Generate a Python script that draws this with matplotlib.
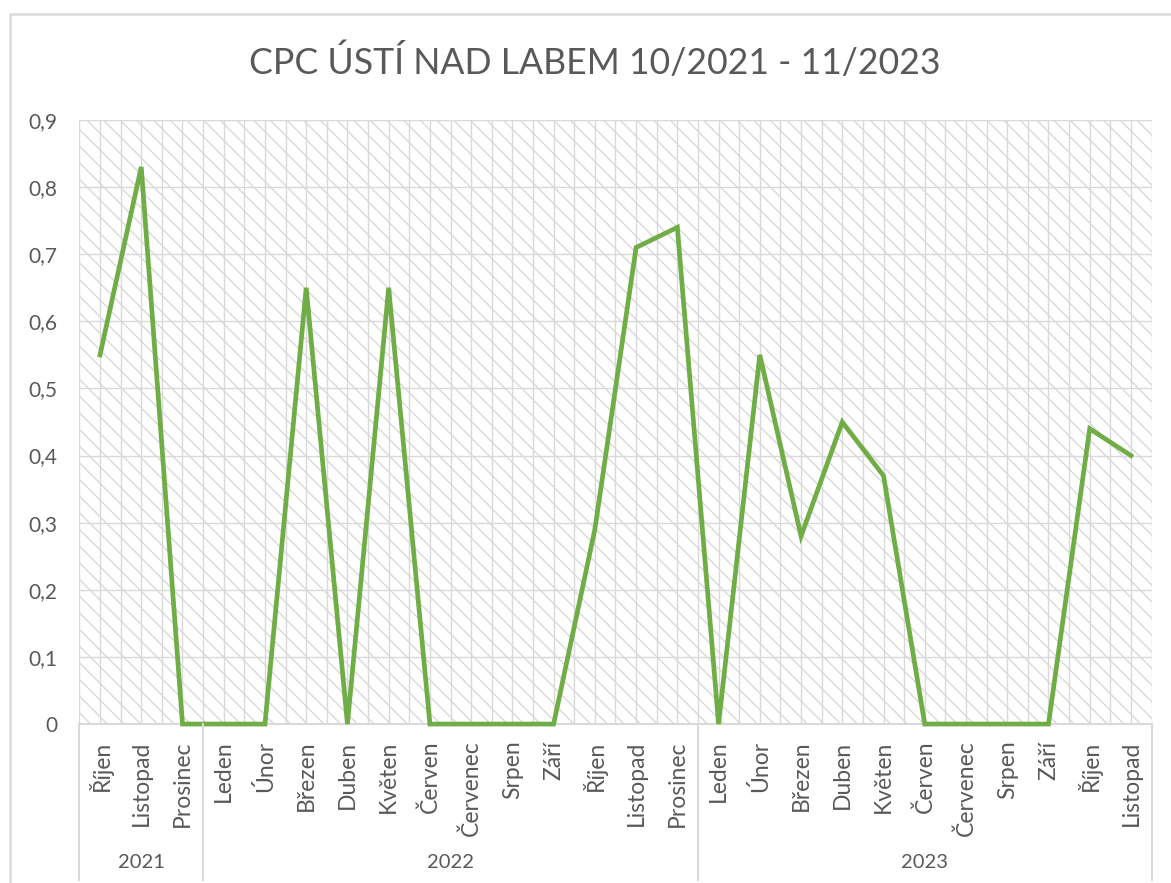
import matplotlib
matplotlib.use('Agg')
import matplotlib.pyplot as plt
from matplotlib.patches import Rectangle
from matplotlib.lines import Line2D
import matplotlib.transforms as mtransforms
import numpy as np

plt.rcParams['font.family'] = ['Lato', 'DejaVu Sans']
plt.rcParams['hatch.linewidth'] = 0.9
plt.rcParams['hatch.color'] = '#d6d6d6'

# data
months = ['Říjen', 'Listopad', 'Prosinec',
          'Leden', 'Únor', 'Březen', 'Duben', 'Květen', 'Červen', 'Červenec',
          'Srpen', 'Září', 'Říjen', 'Listopad', 'Prosinec',
          'Leden', 'Únor', 'Březen', 'Duben', 'Květen', 'Červen', 'Červenec',
          'Srpen', 'Září', 'Říjen', 'Listopad']
values = [0.55, 0.83, 0, 0, 0, 0.65, 0, 0.65, 0, 0, 0, 0, 0.29, 0.71, 0.74,
          0, 0.55, 0.28, 0.45, 0.37, 0, 0, 0, 0, 0.44, 0.40]
years = ['2021', '2022', '2023']
year_counts = [3, 12, 11]
yticks = [0, 0.1, 0.2, 0.3, 0.4, 0.5, 0.6, 0.7, 0.8, 0.9]

grey = '#d9d9d9'
txt = '#595959'
green = '#70ad47'

fig = plt.figure(figsize=(11.71, 8.83), dpi=100)
ax = fig.add_axes([0.0678, 0.18, 0.9156, 0.6841])

x = np.arange(len(months))
n = len(months)

# hatched background
ax.add_patch(Rectangle((-0.5, 0), n, 0.9, facecolor='white', edgecolor='#d6d6d6',
                       hatch='\\\\', linewidth=0, zorder=0))

# grid lines
for xi in np.arange(-0.5, n, 0.5):
    ax.axvline(xi, color=grey, linewidth=1.0, zorder=1)
for yv in yticks[1:]:
    ax.axhline(yv, color=grey, linewidth=1.0, zorder=1)

ax.plot(x, values, color=green, linewidth=3.4, zorder=3, clip_on=False,
        solid_joinstyle='miter')

ax.set_xlim(-0.5, n - 0.5)
ax.set_ylim(0, 0.9)
ax.set_yticks(yticks)
ax.set_yticklabels([('%.1f' % v).replace('.', ',') if v else '0' for v in yticks])
ax.set_xticks(x)
ax.set_xticklabels(months, rotation=90, va='top')
ax.tick_params(axis='both', length=0, colors=txt)
ax.tick_params(axis='y', pad=16, labelsize=15)
ax.tick_params(axis='x', pad=12, labelsize=16.5)
for s in ['top', 'right', 'left']:
    ax.spines[s].set_visible(False)
ax.spines['bottom'].set_color(grey)
ax.spines['bottom'].set_linewidth(1.5)
ax.spines['bottom'].set_zorder(2)

# year groups and separators
trans = mtransforms.blended_transform_factory(ax.transData, fig.transFigure)
start = -0.5
bounds = [start]
for yr, cnt in zip(years, year_counts):
    ax.text(start + cnt / 2, 1 - 862 / 883, yr, transform=trans, ha='center',
            va='center', fontsize=14.5, color=txt)
    start += cnt
    bounds.append(start)
for b in bounds:
    fig.add_artist(Line2D([b, b], [0.18, 1 - 880 / 883], transform=trans,
                          color=grey, linewidth=1.5))

# chart border
fig.add_artist(Rectangle((10 / 1171, -0.1), 1.2, 1.1 - 14 / 883, transform=fig.transFigure,
                         fill=False, edgecolor=grey, linewidth=1.8))

fig.text(0.508, 1 - 62 / 883, 'CPC ÚSTÍ NAD LABEM 10/2021 - 11/2023', ha='center',
         va='center', fontsize=25.7, color=txt)

fig.savefig('out.png', dpi=100)
